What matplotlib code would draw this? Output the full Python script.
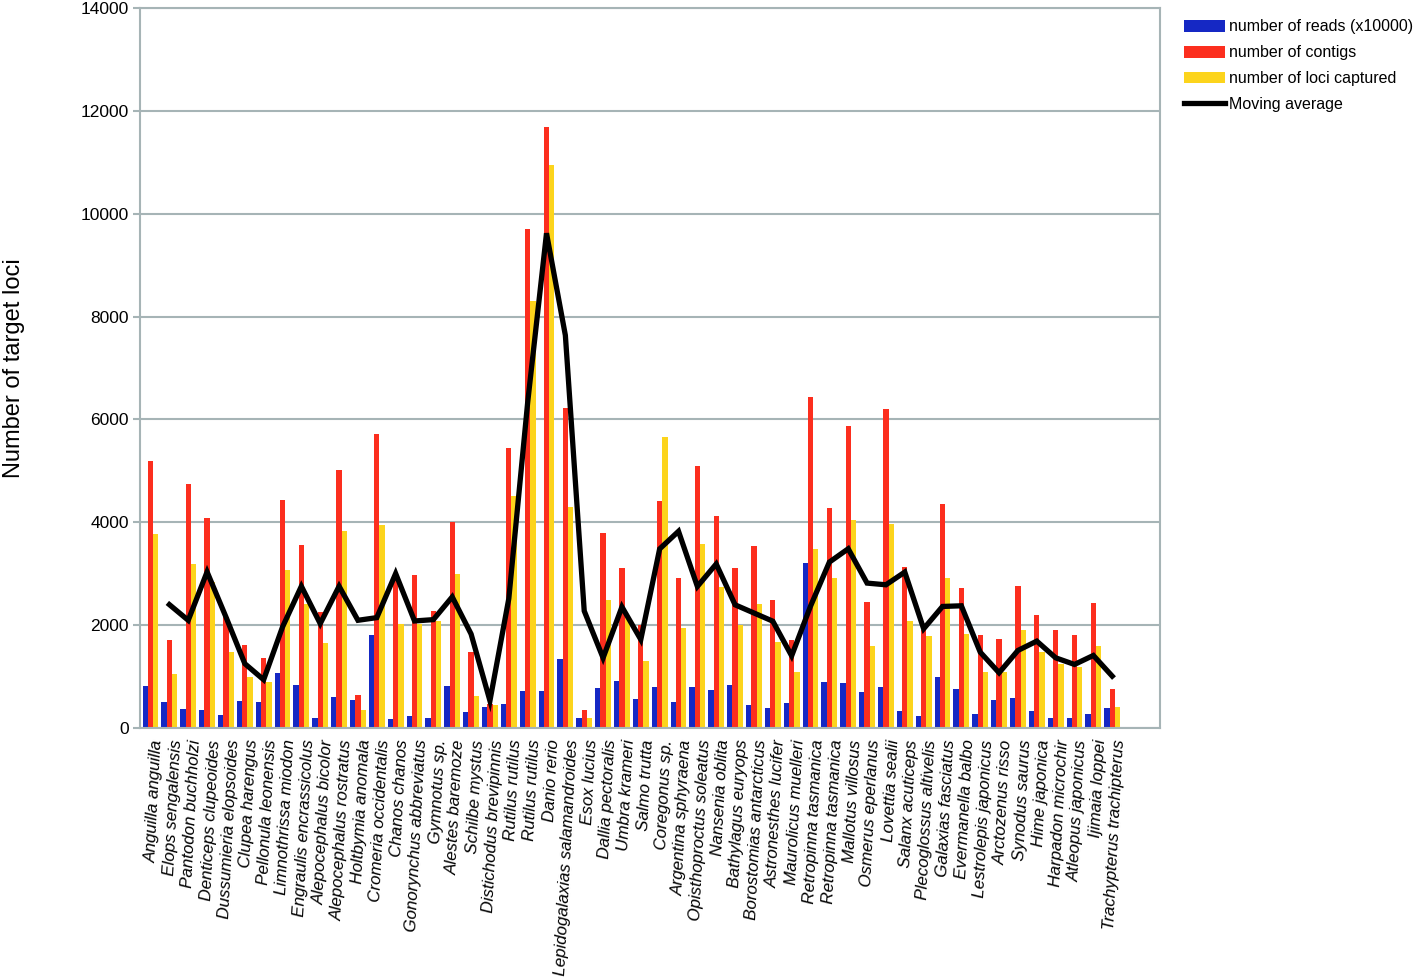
import numpy as np
import matplotlib.pyplot as plt

species = ['Anguilla anguilla', 'Elops sengalensis', 'Pantodon buchholzi', 'Denticeps clupeoides',
           'Dussumieria elopsoides', 'Clupea harengus', 'Pellonula leonensis', 'Limnothrissa miodon',
           'Engraulis encrassicolus', 'Alepocephalus bicolor', 'Alepocephalus rostratus', 'Holtbymia anomala',
           'Cromeria occidentalis', 'Chanos chanos', 'Gonorynchus abbreviatus', 'Gymnotus sp.',
           'Alestes baremoze', 'Schilbe mystus', 'Distichodus brevipinnis', 'Rutilus rutilus',
           'Rutilus rutilus', 'Danio rerio', 'Lepidogalaxias salamandroides', 'Esox lucius',
           'Dallia pectoralis', 'Umbra krameri', 'Salmo trutta', 'Coregonus sp.',
           'Argentina sphyraena', 'Opisthoproctus soleatus', 'Nansenia oblita', 'Bathylagus euryops',
           'Borostomias antarcticus', 'Astronesthes lucifer', 'Maurolicus muelleri', 'Retropinna tasmanica',
           'Retropinna tasmanica', 'Mallotus villosus', 'Osmerus eperlanus', 'Lovettia sealii',
           'Salanx acuticeps', 'Plecoglossus altivelis', 'Galaxias fasciatus', 'Evermanella balbo',
           'Lestrolepis japonicus', 'Arctozenus risso', 'Synodus saurus', 'Hime japonica',
           'Harpadon microchir', 'Atleopus japonicus', 'Ijimaia loppei', 'Trachypterus trachipterus']

reads = [811, 500, 376, 344, 247, 519, 500, 1064, 831, 201, 604, 539, 1811, 169, 234, 201,
         811, 318, 413, 476, 714, 714, 1349, 190, 786, 913, 571, 794, 500, 794, 746, 841,
         452, 389, 492, 3206, 894, 875, 693, 803, 330, 240, 998, 752, 266, 551, 590, 330,
         201, 188, 279, 395]

contigs = [5186, 1713, 4738, 4082, 2160, 1609, 1363, 4439, 3550, 2252, 5010, 636, 5718, 2875, 2979, 2271,
           4011, 1486, 468, 5437, 9699, 11683, 6230, 349, 3802, 3119, 2000, 4413, 2913, 5095, 4127, 3119,
           3532, 2500, 1722, 6440, 4277, 5877, 2456, 6195, 3123, 1912, 4361, 2728, 1801, 1737, 2754, 2190,
           1899, 1814, 2436, 752]

loci = [3771, 1045, 3187, 2850, 1480, 986, 889, 3083, 2408, 1661, 3829, 357, 3946, 2018, 2018, 2083,
        2992, 623, 452, 4516, 8294, 10945, 4302, 190, 2500, 2160, 1302, 5667, 1952, 3587, 2738, 2008,
        2421, 1683, 1087, 3484, 2910, 4037, 1588, 3966, 2074, 1795, 2922, 1834, 1089, 1089, 1899, 1471,
        1251, 1186, 1601, 402]

moving_avg = [np.nan, 2401, 2096, 3037, 2161, 1253, 941, 1966, 2758, 2031, 2758, 2096, 2148, 3005, 2083, 2109,
              2551, 1830, 532, 2516, 6326, 9619, 7635, 2278, 1365, 2357, 1722, 3484, 3826, 2754, 3191, 2397,
              2238, 2079, 1405, 2370, 3227, 3486, 2819, 2786, 3033, 1931, 2365, 2378, 1477, 1076, 1510, 1691,
              1367, 1238, 1413, 1011]

grid_col = '#a6b4b6'
plt.rcParams['font.family'] = ['Liberation Sans', 'DejaVu Sans']

fig = plt.figure(figsize=(14.18, 9.80), dpi=100)
ax = fig.add_axes([0.0987, 0.257, 0.7193, 0.735])

x = np.arange(len(species))
w = 0.28
b1 = ax.bar(x - w, reads, w, color='#1528c4', label='number of reads (x10000)', zorder=2)
b2 = ax.bar(x, contigs, w, color='#fc2e1e', label='number of contigs', zorder=2)
b3 = ax.bar(x + w, loci, w, color='#fcd41c', label='number of loci captured', zorder=2)
ln, = ax.plot(x, moving_avg, color='black', lw=3.8, label='Moving average', zorder=3,
              solid_joinstyle='miter')

ax.set_xlim(-0.56, 53.53)
ax.set_ylim(0, 14000)
ax.set_yticks(range(0, 14001, 2000))
ax.yaxis.grid(True, color=grid_col, lw=1.5, zorder=0)
ax.set_axisbelow(True)
for s in ax.spines.values():
    s.set_color(grid_col)
    s.set_linewidth(1.5)
ax.tick_params(axis='y', color=grid_col, length=5, width=1.5, labelsize=12.5, pad=3)
ax.tick_params(axis='x', length=0, pad=8)
ax.set_xticks(x)
ax.set_xticklabels(species, rotation=87, ha='right', rotation_mode='anchor',
                   fontstyle='italic', fontsize=12.2)
ax.set_ylabel('Number of target loci', fontsize=17, labelpad=40)

fig.legend([b1, b2, b3, ln], [h.get_label() for h in (b1, b2, b3, ln)],
           loc='upper left', bbox_to_anchor=(0.828, 0.99), frameon=False, fontsize=11.5,
           handlelength=2.6, handleheight=0.75, labelspacing=0.68, handletextpad=0.25,
           borderaxespad=0.2)

fig.savefig('out.png', dpi=100)
